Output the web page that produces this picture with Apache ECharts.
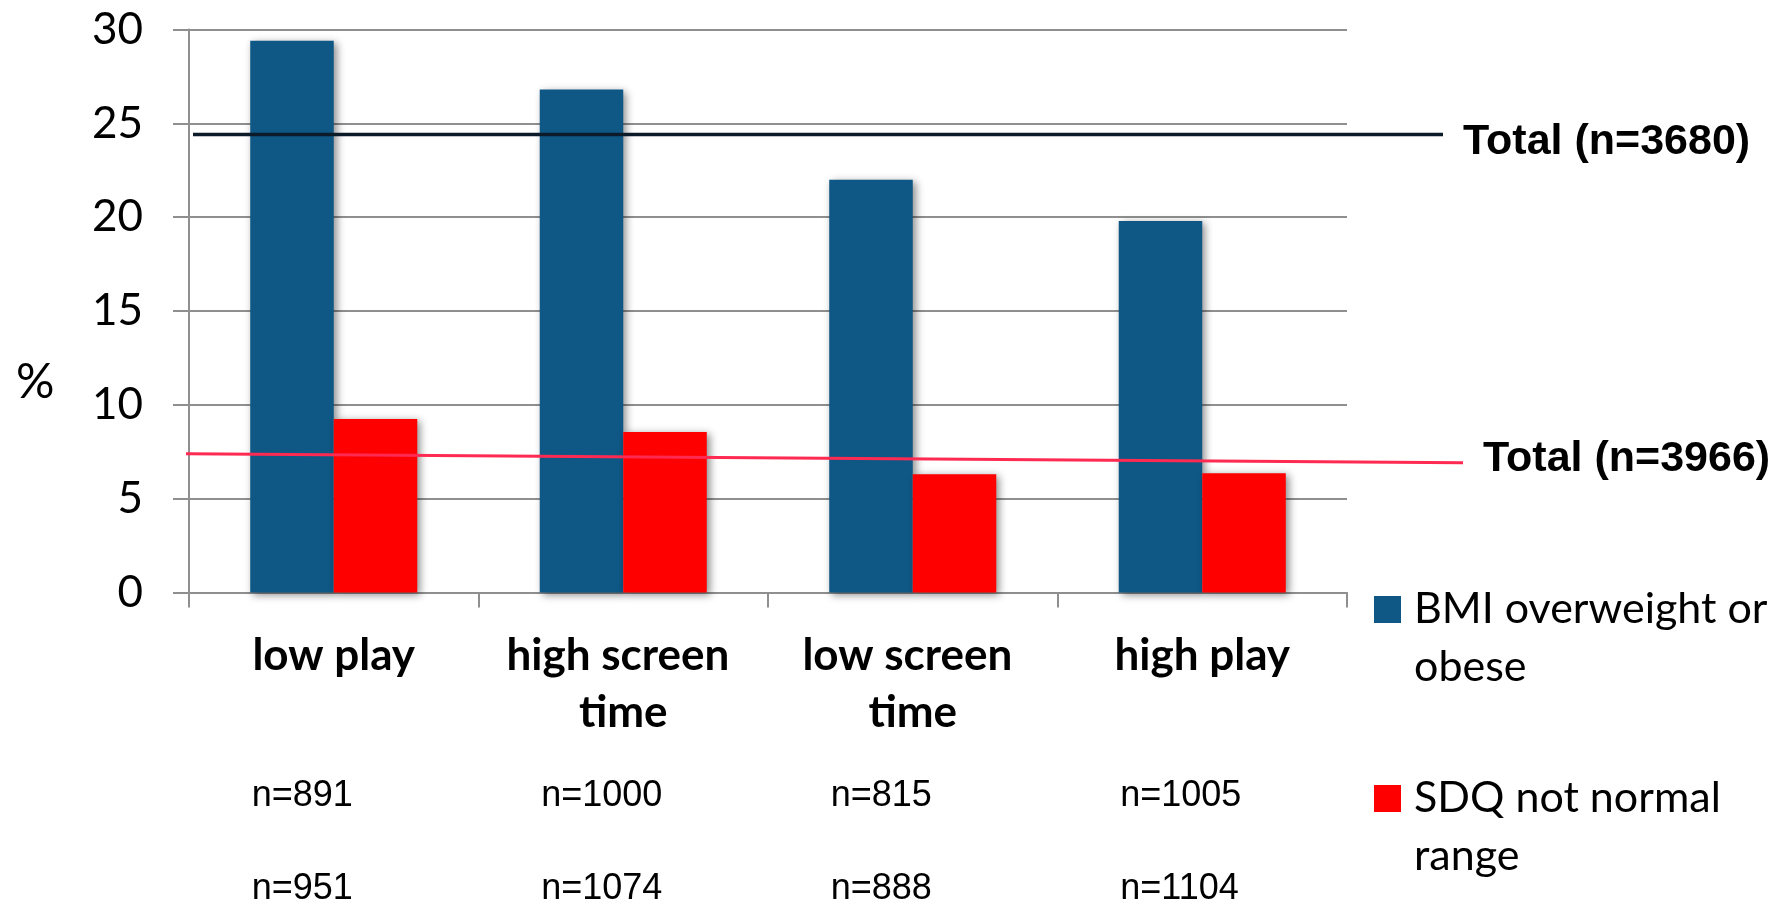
<!DOCTYPE html>
<html>
<head>
<meta charset="utf-8">
<title>BMI and SDQ by activity group</title>
<script src="https://cdn.jsdelivr.net/npm/echarts@6/dist/echarts.min.js"></script>
<style>
  html, body { margin: 0; padding: 0; background: #ffffff; }
  #chart { width: 1779px; height: 907px; }
</style>
</head>
<body>
<div id="chart"></div>
<script>
// Activity groups and their percentages
const categories = ['low play', 'high screen time', 'low screen time', 'high play'];
const bmiOverweight = [29.4, 26.8, 22.0, 19.8];
const sdqNotNormal = [9.25, 8.55, 6.3, 6.35];

// Group sizes for each measure
const nBmi = [891, 1000, 815, 1005];
const nSdq = [951, 1074, 888, 1104];

// Whole-sample reference levels (the SDQ line runs slightly downhill)
const totalBmi = [24.4, 24.4];
const totalBmiN = 3680;
const totalSdq = [7.4, 6.92];
const totalSdqN = 3966;

// Value axis ticks
const yMin = 0, yMax = 30, yStep = 5;

const seriesNames = ['BMI overweight or obese', 'SDQ not normal range'];
// Legend text as it wraps in the key
const legendText = {
  'BMI overweight or obese': 'BMI overweight or\nobese',
  'SDQ not normal range': 'SDQ not normal\nrange'
};

const calibriLike = 'Lato, "Open Sans", sans-serif';
const arialLike = '"Liberation Sans", Arial, sans-serif';
const gridGray = '#8f8f8f';

const plotTop = 29.5, plotBottom = 314.5;

const chart = echarts.init(document.getElementById('chart'), null, { renderer: 'canvas' });

// One legend per series; an empty leading line keeps the swatch level with the first text line
function legendFor(name, top) {
  return {
    data: [name],
    left: 1374,
    top: top,
    orient: 'vertical',
    padding: 0,
    itemWidth: 27,
    itemHeight: 27,
    icon: 'rect',
    selectedMode: false,
    formatter: function (n) { return '\n' + legendText[n]; },
    textStyle: {
      fontFamily: calibriLike,
      fontSize: 43,
      color: '#000',
      lineHeight: 58,
      padding: [0, 0, 0, 8]
    }
  };
}

const option = {
  backgroundColor: '#ffffff',
  animation: false,
  title: {
    text: '%',
    left: 11,
    top: 354,
    textStyle: { fontFamily: calibriLike, fontWeight: 'normal', fontSize: 48, color: '#000' }
  },
  legend: [
    legendFor(seriesNames[0], 522.5),
    legendFor(seriesNames[1], 711.5)
  ],
  grid: [
    { left: 189, right: 432, top: plotTop, bottom: plotBottom },
    // offset grid whose category centres sit at the left edge of each bar pair
    { left: 107, right: 514, top: plotTop, bottom: plotBottom },
    // spans for the two total lines
    { left: 193, right: 336, top: plotTop, bottom: plotBottom },
    { left: 186, right: 316, top: plotTop, bottom: plotBottom }
  ],
  xAxis: [
    {
      type: 'category',
      gridIndex: 0,
      data: categories,
      axisLine: { show: true, lineStyle: { color: gridGray, width: 2 } },
      axisTick: { show: true, length: 15, lineStyle: { color: gridGray, width: 2 } },
      axisLabel: {
        interval: 0,
        margin: 35,
        fontFamily: calibriLike,
        fontWeight: 'bold',
        fontSize: 44,
        lineHeight: 57,
        color: '#000',
        width: 270,
        overflow: 'break'
      }
    },
    {
      type: 'category',
      gridIndex: 1,
      data: categories,
      axisLine: { show: false },
      axisTick: { show: false },
      axisLabel: {
        interval: 0,
        margin: 158,
        align: 'left',
        formatter: function (value, idx) {
          return '{n|n=' + nBmi[idx] + '}\n{n|n=' + nSdq[idx] + '}';
        },
        rich: {
          n: { fontFamily: arialLike, fontSize: 36, lineHeight: 92.5, color: '#000' }
        }
      }
    },
    { type: 'value', gridIndex: 2, min: 0, max: 1, show: false },
    { type: 'value', gridIndex: 3, min: 0, max: 1, show: false }
  ],
  yAxis: [
    {
      type: 'value',
      gridIndex: 0,
      min: yMin,
      max: yMax,
      interval: yStep,
      axisLine: { show: true, lineStyle: { color: gridGray, width: 2 } },
      axisTick: { show: true, length: 16, lineStyle: { color: gridGray, width: 2 } },
      splitLine: { show: true, lineStyle: { color: gridGray, width: 2 } },
      axisLabel: {
        margin: 46,
        fontFamily: calibriLike,
        fontSize: 44,
        color: '#000'
      }
    },
    { type: 'value', gridIndex: 1, min: yMin, max: yMax, show: false },
    { type: 'value', gridIndex: 2, min: yMin, max: yMax, show: false },
    { type: 'value', gridIndex: 3, min: yMin, max: yMax, show: false }
  ],
  series: [
    {
      name: seriesNames[0],
      type: 'bar',
      xAxisIndex: 0,
      yAxisIndex: 0,
      data: bmiOverweight,
      barGap: '0%',
      barCategoryGap: '42.3%',
      itemStyle: {
        color: '#0f5886',
        shadowColor: 'rgba(0,0,0,0.45)',
        shadowBlur: 8,
        shadowOffsetX: 3,
        shadowOffsetY: 2
      }
    },
    {
      name: seriesNames[1],
      type: 'bar',
      xAxisIndex: 0,
      yAxisIndex: 0,
      data: sdqNotNormal,
      barGap: '0%',
      barCategoryGap: '42.3%',
      itemStyle: {
        color: '#ff0000',
        shadowColor: 'rgba(0,0,0,0.45)',
        shadowBlur: 8,
        shadowOffsetX: 3,
        shadowOffsetY: 2
      }
    },
    {
      name: 'Total BMI',
      type: 'line',
      xAxisIndex: 2,
      yAxisIndex: 2,
      z: 5,
      symbol: 'none',
      data: [[0, totalBmi[0]], [1, totalBmi[1]]],
      lineStyle: { color: '#0b1b29', width: 3.5 },
      endLabel: {
        show: true,
        distance: 20,
        offset: [0, 8],
        formatter: 'Total (n=' + totalBmiN + ')',
        fontFamily: arialLike,
        fontWeight: 'bold',
        fontSize: 43,
        color: '#000'
      }
    },
    {
      name: 'Total SDQ',
      type: 'line',
      xAxisIndex: 3,
      yAxisIndex: 3,
      z: 5,
      symbol: 'none',
      data: [[0, totalSdq[0]], [1, totalSdq[1]]],
      lineStyle: { color: '#ff2a52', width: 3 },
      endLabel: {
        show: true,
        distance: 20,
        offset: [0, -3],
        formatter: 'Total (n=' + totalSdqN + ')',
        fontFamily: arialLike,
        fontWeight: 'bold',
        fontSize: 43,
        color: '#000'
      }
    }
  ]
};

chart.setOption(option);
</script>
</body>
</html>
